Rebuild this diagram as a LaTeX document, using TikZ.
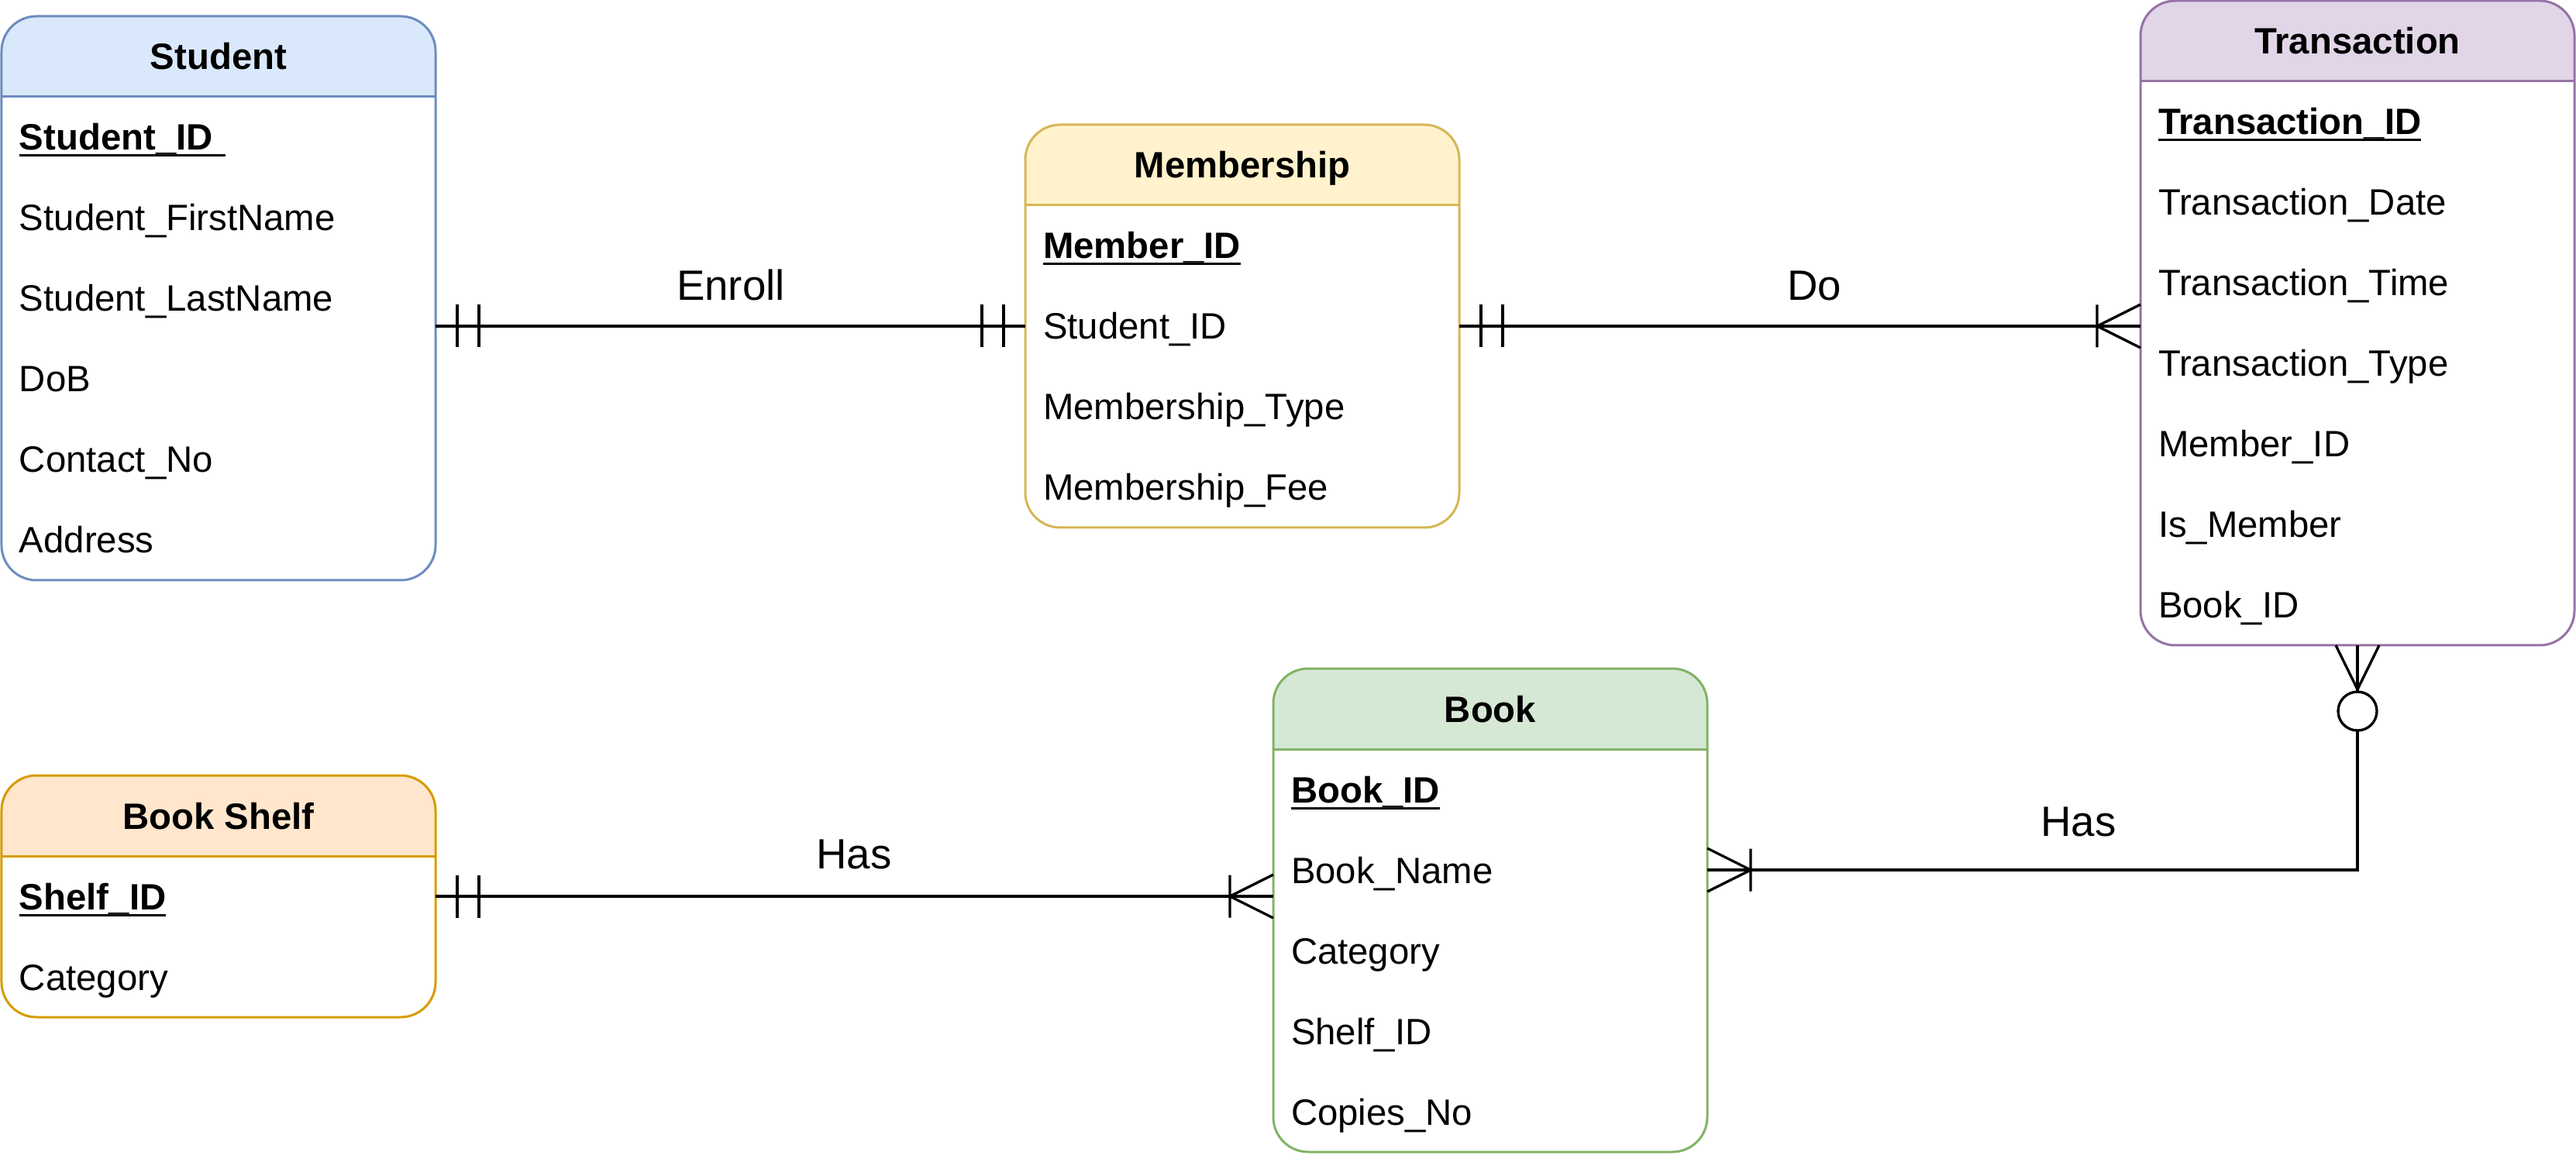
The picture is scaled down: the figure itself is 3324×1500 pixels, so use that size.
\documentclass[tikz,border=0pt]{standalone}
\usepackage{fontspec}
\setmainfont{Liberation Sans}
\usetikzlibrary{positioning}

\definecolor{stuFill}{HTML}{DAE8FC}
\definecolor{stuLine}{HTML}{6C8EBF}
\definecolor{memFill}{HTML}{FFF2CC}
\definecolor{memLine}{HTML}{D6B656}
\definecolor{trnFill}{HTML}{E1D5E7}
\definecolor{trnLine}{HTML}{9673A6}
\definecolor{bookFill}{HTML}{D5E8D4}
\definecolor{bookLine}{HTML}{82B366}
\definecolor{shelfFill}{HTML}{FFE6CC}
\definecolor{shelfLine}{HTML}{D79B00}

% underlined primary key
\newcommand{\pkey}[1]{\setbox0\hbox{\bfseries #1}\rlap{\rule[-2.55pt]{\wd0}{0.9pt}}\box0}

\tikzset{
  entity/.style={anchor=north west, fill=white, minimum width=168pt, inner sep=0pt, outer sep=0pt},
  tblframe/.style={draw=#1, line width=0.9pt, rounded corners=13.5pt},
  header/.style={anchor=north, minimum width=168pt, minimum height=31.2pt, inner sep=0pt, outer sep=0pt,
    font=\fontsize{14.2}{17}\selectfont\bfseries, text height=12.2pt, text depth=2pt},
  field/.style={below=0pt of #1, minimum height=31.2pt, text width=154.2pt, inner xsep=6.9pt, inner ysep=0pt,
    outer sep=0pt, align=left, text height=12.2pt, text depth=2pt},
  conn/.style={line width=1pt, black},
  rel/.style={font=\fontsize{16.4}{19}\selectfont, inner sep=0pt, text height=13.7pt, text depth=2pt}
}

\begin{document}
\begin{tikzpicture}[x=0.3pt,y=0.3pt,yscale=-1,font=\fontsize{14.2}{17}\selectfont]
  \useasboundingbox (0,0) rectangle (3324,1500);

  %Student
  \node[entity, minimum height=218.4pt] (stu) at (2,21) {};
  \begin{scope}
    \clip[rounded corners=13.5pt] (stu.north west) rectangle (stu.south east);
    \node[header, fill=stuFill] (stu-h) at (stu.north) {Student};
  \end{scope}
  \draw[tblframe=stuLine] (stu.north west) rectangle (stu.south east);
  \draw[stuLine, line width=0.9pt] (stu-h.south west) -- (stu-h.south east);
  \node[field=stu-h] (stu-1) {\pkey{Student\_ID\ }};
  \foreach \t [count=\i from 2, remember=\i as \j (initially 1)] in {Student\_FirstName, Student\_LastName, DoB, Contact\_No, Address}
    \node[field=stu-\j] (stu-\i) {\t};

  %Membership
  \node[entity, minimum height=156pt] (mem) at (1323,161) {};
  \begin{scope}
    \clip[rounded corners=13.5pt] (mem.north west) rectangle (mem.south east);
    \node[header, fill=memFill] (mem-h) at (mem.north) {Membership};
  \end{scope}
  \draw[tblframe=memLine] (mem.north west) rectangle (mem.south east);
  \draw[memLine, line width=0.9pt] (mem-h.south west) -- (mem-h.south east);
  \node[field=mem-h] (mem-1) {\pkey{Member\_ID}};
  \foreach \t [count=\i from 2, remember=\i as \j (initially 1)] in {Student\_ID, Membership\_Type, Membership\_Fee}
    \node[field=mem-\j] (mem-\i) {\t};

  %Transaction
  \node[entity, minimum height=249.6pt] (trn) at (2762,1) {};
  \begin{scope}
    \clip[rounded corners=13.5pt] (trn.north west) rectangle (trn.south east);
    \node[header, fill=trnFill] (trn-h) at (trn.north) {Transaction};
  \end{scope}
  \draw[tblframe=trnLine] (trn.north west) rectangle (trn.south east);
  \draw[trnLine, line width=0.9pt] (trn-h.south west) -- (trn-h.south east);
  \node[field=trn-h] (trn-1) {\pkey{Transaction\_ID}};
  \foreach \t [count=\i from 2, remember=\i as \j (initially 1)] in {Transaction\_Date, Transaction\_Time, Transaction\_Type, Member\_ID, Is\_Member, Book\_ID}
    \node[field=trn-\j] (trn-\i) {\t};

  %Book
  \node[entity, minimum height=187.2pt] (book) at (1643,863) {};
  \begin{scope}
    \clip[rounded corners=13.5pt] (book.north west) rectangle (book.south east);
    \node[header, fill=bookFill] (book-h) at (book.north) {Book};
  \end{scope}
  \draw[tblframe=bookLine] (book.north west) rectangle (book.south east);
  \draw[bookLine, line width=0.9pt] (book-h.south west) -- (book-h.south east);
  \node[field=book-h] (book-1) {\pkey{Book\_ID}};
  \foreach \t [count=\i from 2, remember=\i as \j (initially 1)] in {Book\_Name, Category, Shelf\_ID, Copies\_No}
    \node[field=book-\j] (book-\i) {\t};

  %Book Shelf
  \node[entity, minimum height=93.6pt] (shelf) at (2,1001) {};
  \begin{scope}
    \clip[rounded corners=13.5pt] (shelf.north west) rectangle (shelf.south east);
    \node[header, fill=shelfFill] (shelf-h) at (shelf.north) {Book Shelf};
  \end{scope}
  \draw[tblframe=shelfLine] (shelf.north west) rectangle (shelf.south east);
  \draw[shelfLine, line width=0.9pt] (shelf-h.south west) -- (shelf-h.south east);
  \node[field=shelf-h] (shelf-1) {\pkey{Shelf\_ID}};
  \node[field=shelf-1] (shelf-2) {Category};

  %Enroll: one to one
  \coordinate (enr-l) at (stu.east |- mem-2.west);
  \draw[conn] (enr-l) -- (mem-2.west);
  \draw[conn] (enr-l) ++(28,-27.5) -- ++(0,55) ++(28,-55) -- ++(0,55);
  \draw[conn] (mem-2.west) ++(-28,-27.5) -- ++(0,55) ++(-28,-55) -- ++(0,55);
  \node[rel] (enroll) at (943,368) {Enroll};

  %Do: one to many
  \coordinate (do-r) at (trn.west |- mem-2.east);
  \draw[conn] (mem-2.east) -- (do-r);
  \draw[conn] (mem-2.east) ++(28,-27.5) -- ++(0,55) ++(28,-55) -- ++(0,55);
  \draw[conn] (do-r) ++(0,-28) -- ++(-56,28) -- ++(56,28) ++(-56,-55.5) -- ++(0,55);
  \node[rel] (do) at (2341,368) {Do};

  %Has: shelf to book
  \coordinate (has-r) at (book.west |- shelf-1.east);
  \draw[conn] (shelf-1.east) -- (has-r);
  \draw[conn] (shelf-1.east) ++(28,-27.5) -- ++(0,55) ++(28,-55) -- ++(0,55);
  \draw[conn] (has-r) ++(0,-28) -- ++(-56,28) -- ++(56,28) ++(-56,-55.5) -- ++(0,55);
  \node[rel] (has-a) at (1102,1102) {Has};

  %Has: book to transaction
  \coordinate (has-c) at (book-2.east -| trn.south);
  \draw[conn] (book-2.east) -- (has-c) -- (trn.south);
  \draw[conn] (book-2.east) ++(0,-28) -- ++(56,28) -- ++(-56,28) ++(56,-55.5) -- ++(0,55);
  \draw[conn] (trn.south) ++(-28,0) -- ++(28,57) -- ++(28,-57);
  \draw[conn, fill=white] (trn.south) ++(0,85) circle (7.5pt);
  \node[rel] (has-b) at (2682,1060) {Has};
\end{tikzpicture}
\end{document}
